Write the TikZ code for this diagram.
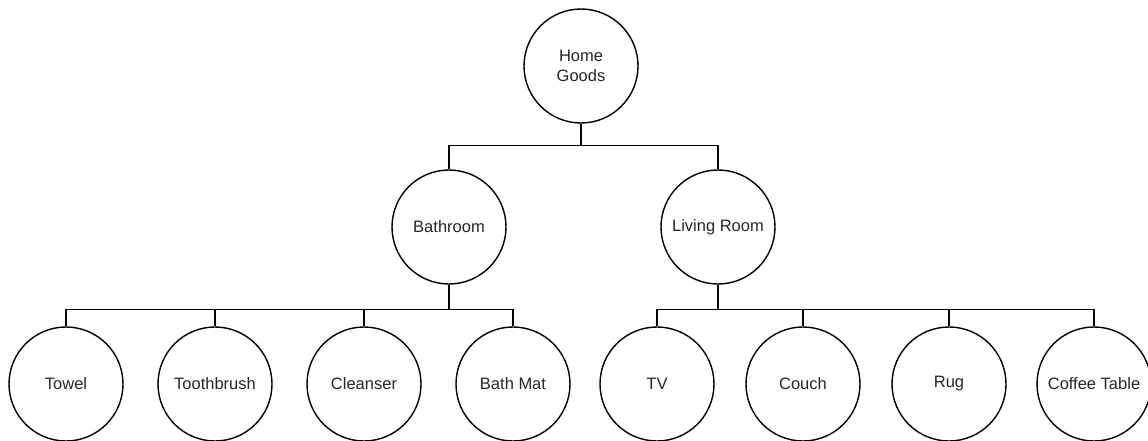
\documentclass[tikz,border=0pt]{standalone}
\usepackage{fontspec}
\setmainfont{Liberation Sans}
\begin{document}
\begin{tikzpicture}[x=1pt,y=-1pt,
  item/.style={circle,draw=black,line width=1.4pt,minimum size=114pt,inner sep=0pt,
    font=\fontsize{16.5}{20}\selectfont,text=black!85,align=center},
  link/.style={draw=black,line width=1.4pt}]
\useasboundingbox (0,0) rectangle (1148,440);

% root
\node[item] (root) at (581,66) {Home\\Goods};

% categories
\node[item] (bath) at (449,227) {Bathroom};
\node[item] (living) at (718,227) {Living Room};

% leaves
\node[item] (towel) at (66,384) {Towel};
\node[item] (brush) at (215,384) {Toothbrush};
\node[item] (clean) at (364,384) {Cleanser};
\node[item] (mat) at (513,384) {Bath Mat};
\node[item] (tv) at (657,384) {TV};
\node[item] (couch) at (803,384) {Couch};
\node[item] (rug) at (949,384) {Rug};
\node[item] (table) at (1094,384) {Coffee Table};

% connectors
\foreach \c in {bath,living}
  \draw[link] (root.south) -- ++(0,22) -| (\c.north);
\foreach \c in {towel,brush,clean,mat}
  \draw[link] (bath.south) -- ++(0,25) -| (\c.north);
\foreach \c in {tv,couch,rug,table}
  \draw[link] (living.south) -- ++(0,25) -| (\c.north);
\end{tikzpicture}
\end{document}
